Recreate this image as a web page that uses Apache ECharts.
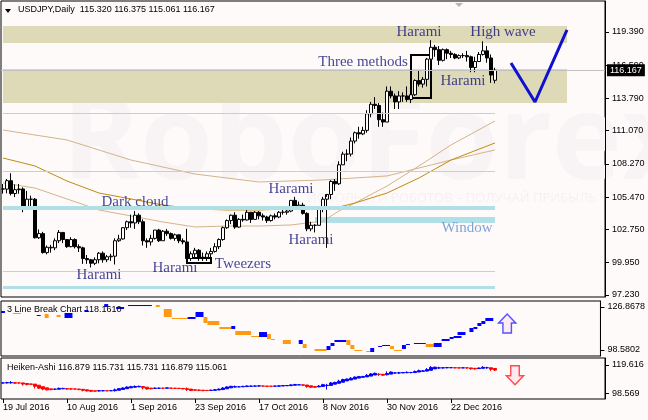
<!DOCTYPE html>
<html><head><meta charset="utf-8">
<script src="https://cdn.jsdelivr.net/npm/echarts@6/dist/echarts.min.js"></script>
<style>html,body{margin:0;padding:0;background:#fffafa}#c{width:648px;height:420px}</style>
</head><body><div id="c"></div>
<script>
// ---------- DATA ----------
const startDate = '2016-07-19';
const nCats = 151;
const xTickLabels = ['19 Jul 2016','10 Aug 2016','1 Sep 2016','23 Sep 2016','17 Oct 2016','8 Nov 2016','30 Nov 2016','22 Dec 2016'];
const yTicksMain = [97.23, 99.95, 102.75, 105.47, 108.27, 111.07, 113.79, 116.59, 119.39];
const yTicksLB = [98.5802, 126.8678];
const yTicksHA = [98.569, 119.616];

const opens = [
106.17,106.15,106.86,105.78,106.10,106.16,104.65,105.30,105.30,102.05,
102.40,100.80,101.25,101.20,101.80,102.50,101.90,101.30,101.90,101.30,
101.20,100.30,100.20,99.90,100.20,100.75,100.20,100.45,100.50,101.80,
101.95,102.90,103.40,103.30,103.95,103.40,101.80,101.70,102.00,102.70,
101.80,102.60,102.40,102.00,102.30,101.80,101.70,100.30,100.70,101.00,
100.40,100.40,100.70,100.90,101.30,101.90,102.90,103.50,103.95,102.95,
103.60,103.55,104.20,103.60,104.20,103.90,103.80,103.50,103.90,103.80,
104.20,104.20,104.30,105.20,104.70,104.80,104.10,102.80,103.10,103.10,
104.50,105.30,105.70,106.80,106.60,108.20,109.10,109.10,110.20,110.90,
110.80,111.10,112.50,113.30,113.20,112.00,111.80,114.40,114.00,113.50,
114.00,114.00,113.70,114.10,115.30,115.00,115.40,117.10,118.10,117.90,
117.00,117.90,117.60,117.50,117.20,117.40,117.40,117.30,116.40,116.90,
117.50,117.80,117.20,115.32];
const highs = [
106.58,107.00,107.49,106.55,106.58,106.30,106.00,105.60,105.40,102.75,
102.55,101.40,101.45,102.00,102.70,102.50,101.95,102.10,102.00,101.50,
101.30,100.60,100.25,100.40,100.85,100.90,100.60,100.70,102.00,102.30,
102.95,103.50,104.00,104.30,104.10,103.60,102.00,102.30,102.70,102.80,
102.70,102.80,102.50,102.40,102.30,102.00,102.80,100.90,101.20,101.10,
100.80,100.90,101.20,101.60,102.00,103.00,103.60,104.00,104.20,103.70,
104.00,104.40,104.20,104.30,104.30,104.10,103.90,104.00,104.10,104.30,
104.50,104.60,105.20,105.50,105.10,105.00,104.20,103.40,103.20,104.60,
105.50,105.50,106.90,107.00,108.50,109.30,109.50,110.50,111.00,111.40,
111.40,112.80,113.50,113.90,113.40,112.60,114.80,114.80,114.20,114.40,
114.30,114.80,114.40,115.40,116.10,115.60,117.20,118.70,118.30,118.20,
118.00,118.00,117.80,117.60,117.50,117.60,117.80,117.40,117.30,117.70,
118.60,118.20,117.50,116.375];
const lows = [
105.77,105.80,105.62,105.48,105.76,104.20,104.40,104.60,101.99,101.95,
100.72,100.65,100.80,101.00,101.60,101.60,101.20,101.25,101.15,100.85,
99.85,99.85,99.55,99.75,99.90,99.95,100.00,100.10,99.80,101.70,
101.90,102.70,102.90,102.80,103.20,101.40,101.20,101.40,101.90,101.70,
101.80,102.20,101.90,101.80,101.60,101.50,100.20,100.10,100.30,100.10,
100.10,100.10,100.30,100.80,101.10,101.80,102.80,103.20,102.80,102.90,
103.40,103.50,103.30,103.60,103.60,103.50,103.30,103.40,103.60,103.70,
104.00,104.00,104.20,104.60,104.60,104.00,102.60,102.60,102.50,103.10,
104.20,101.20,105.30,106.00,106.50,108.20,108.50,108.90,110.00,110.40,
110.70,110.90,112.20,112.90,111.40,111.40,111.80,113.80,112.90,112.90,
113.50,113.50,113.40,114.00,114.80,114.70,114.80,116.90,117.30,116.60,
116.90,117.10,117.20,117.10,117.10,117.20,116.90,116.00,116.00,116.90,
117.40,116.80,115.10,115.061];
const closes = [
106.15,106.86,105.78,106.10,106.16,104.65,105.30,105.30,102.05,102.40,
100.80,101.25,101.20,101.80,102.50,101.90,101.30,101.90,101.30,101.20,
100.30,100.20,99.90,100.20,100.75,100.20,100.45,100.50,101.80,101.95,
102.90,103.40,103.30,103.95,103.40,101.80,101.70,102.00,102.70,101.80,
102.60,102.40,102.00,102.30,101.80,101.70,100.30,100.70,101.00,100.40,
100.40,100.70,100.90,101.30,101.90,102.90,103.50,103.95,102.95,103.60,
103.55,104.20,103.60,104.20,103.90,103.80,103.50,103.90,103.80,104.20,
104.20,104.30,105.20,104.70,104.80,104.10,102.80,103.10,103.10,104.50,
105.30,105.70,106.80,106.60,108.20,109.10,109.10,110.20,110.90,110.80,
111.10,112.50,113.30,113.20,112.00,111.80,114.40,114.00,113.50,114.00,
114.00,113.70,114.10,115.30,115.00,115.40,117.10,118.10,117.90,117.00,
117.90,117.60,117.50,117.20,117.40,117.40,117.30,116.40,116.90,117.50,
117.80,117.20,115.76,116.167];

// moving averages: [barIndex, value]
const maSlow = [[0,111.13],[16,110.29],[32,108.60],[48,107.42],[64,106.75],[80,106.92],[96,107.26],[104,107.93],[112,108.60],[123,109.45]];
const maMid  = [[0,108.77],[8,108.10],[16,106.83],[24,105.82],[32,105.32],[40,104.81],[48,104.48],[56,104.39],[64,104.39],[72,104.48],[80,104.48],[84,104.64],[88,104.98],[96,105.82],[104,107.09],[112,108.60],[123,110.04]];
const maFast = [[0,106.67],[8,106.24],[16,105.32],[24,104.39],[32,103.89],[40,103.38],[48,102.96],[56,103.04],[64,103.04],[72,103.13],[80,103.46],[84,104.31],[88,104.98],[96,106.41],[104,108.10],[112,109.87],[123,111.89]];

// 3 line break bricks: [fromBar, toBar, top, bottom, up(1)/down(0)]
const lineBreak = [
[0,0,124.24,122.92,1],[3,4,122.92,122.26,0],[9,9,121.60,120.95,1],[11,11,122.26,119.63,0],
[14,14,121.60,120.29,0],[16,17,122.92,119.63,1],[21,21,124.90,123.58,1],[26,26,128.80,126.87,1],
[29,30,126.87,125.55,1],[32,37,128.20,127.50,1],[39,39,128.20,126.87,0],[41,42,125.55,120.29,0],
[43,46,119.63,118.97,0],[47,48,120.29,118.97,1],[49,50,123.58,120.29,1],[51,51,120.29,116.34,0],
[52,54,117.66,115.03,0],[55,57,113.71,112.40,0],[58,58,114.37,112.40,1],[59,62,111.08,108.45,0],
[63,64,107.80,107.13,0],[65,66,110.40,107.13,1],[67,67,109.10,105.80,0],[68,68,105.80,105.16,0],
[71,72,105.16,102.53,0],[75,75,105.16,102.53,1],[76,76,102.53,99.90,0],[79,81,99.24,97.92,0],
[82,82,101.20,98.58,1],[83,83,103.19,101.20,1],[84,86,105.16,103.84,1],[87,87,105.16,101.87,0],
[88,88,101.87,99.24,0],[89,90,98.58,97.92,0],[92,92,97.92,97.26,0],[93,93,99.90,97.26,1],
[95,95,101.20,100.55,1],[96,97,101.87,101.20,1],[98,98,101.20,99.24,0],[99,100,98.58,97.92,0],
[101,101,101.87,99.24,1],[102,102,102.53,101.87,1],[104,106,103.19,102.53,1],[107,108,102.53,100.55,0],
[109,110,103.19,100.55,1],[111,112,105.80,104.50,1],[113,113,107.13,105.80,1],[114,115,107.80,106.47,1],
[115,116,110.40,108.45,1],[118,118,113.05,110.40,1],[119,119,113.71,112.40,1],[120,120,116.34,114.37,1],
[121,121,117.66,115.70,1],[122,123,119.63,117.66,1]];

// analyst drawings (price levels)
const tanBands = [[118.46,119.89],[113.41,116.27]];
const thinLevels = [112.54, 107.62, 99.25];
const thickLevels = [[104.56,4],[97.90,3]];
const windowZone = [103.30, 103.80];
const vArrow = [[127,116.78],[133,113.49],[141,119.56]];
const notes = [[104,119.39,'Harami'],[125,119.39,'High wave'],[90,116.86,'Three methods'],[115,115.26,'Harami'],
[33,105.07,'Dark cloud'],[24,98.91,'Harami'],[43,99.50,'Harami'],[60,99.84,'Tweezers'],[72,106.16,'Harami'],[77,101.86,'Harami']];
const windowNote = [116,102.88,'Window'];
const lastPrice = 116.167;

// ---------- BUILD ----------
function weekdays(start, n){
  const M=['Jan','Feb','Mar','Apr','May','Jun','Jul','Aug','Sep','Oct','Nov','Dec'];
  const out=[]; const d=new Date(start+'T00:00:00Z');
  while(out.length<n){const w=d.getUTCDay(); if(w!==0&&w!==6) out.push(d.getUTCDate()+' '+M[d.getUTCMonth()]+' '+d.getUTCFullYear()); d.setUTCDate(d.getUTCDate()+1);}
  return out;
}
const cats = weekdays(startDate, nCats);
const candles = opens.map((o,i)=>[o, closes[i], lows[i], highs[i]]);
// Heiken-Ashi from the candles
const ha=[]; let pO=null,pC=null;
for(let i=0;i<opens.length;i++){
  const c=(opens[i]+highs[i]+lows[i]+closes[i])/4;
  const o= pO===null ? (opens[i]+closes[i])/2 : (pO+pC)/2;
  ha.push([o,c,Math.min(lows[i],o,c),Math.max(highs[i],o,c)]); pO=o; pC=c;
}
const lastIdx = opens.length-1;
const FS='"Liberation Sans", Arial, sans-serif';
const SERIF='"Liberation Serif", "Times New Roman", serif';

function xAx(g, bottom){
  return {type:'category', gridIndex:g, data:cats, boundaryGap:true,
    axisLine:{show:false}, splitLine:{show:false},
    axisTick:{show:bottom, interval:(i)=>xTickLabels.indexOf(cats[i])>=0, alignWithLabel:true, length:4, inside:false, lineStyle:{color:'#000'}},
    axisLabel:{show:bottom, interval:(i)=>xTickLabels.indexOf(cats[i])>=0, align:'left', fontSize:9, fontFamily:FS, color:'#000', margin:4}};
}
function yAx(g, min, max, ticks, dec){
  return {type:'value', gridIndex:g, position:'right', min:min, max:max, scale:true,
    splitLine:{show:false}, axisLine:{show:true, lineStyle:{color:'#000'}},
    axisTick:{show:true, length:4, customValues:ticks, lineStyle:{color:'#000'}},
    axisLabel:{show:true, customValues:ticks, margin:7, fontSize:9, fontFamily:FS, color:'#000', formatter:(v)=>Number(v).toFixed(dec)}};
}

const chart = echarts.init(document.getElementById('c'), null, {renderer:'canvas'});
const gridBase = {left:1, width:604, show:true, borderColor:'#000', borderWidth:1, backgroundColor:'#fffafa'};

const markAreas = tanBands.map(b=>[{xAxis:0, yAxis:b[0], itemStyle:{color:'#dedab8'}},{xAxis:141, yAxis:b[1]}]);
markAreas.push([{xAxis:78, yAxis:windowZone[0], itemStyle:{color:'#b0e0e6'}},{xAxis:lastIdx, yAxis:windowZone[1]}]);
const markLines = thinLevels.map(v=>[{xAxis:0, yAxis:v, lineStyle:{color:'#add8e6', width:1, type:'solid'}},{xAxis:lastIdx, yAxis:v}]);
thickLevels.forEach(t=>markLines.push([{xAxis:0, yAxis:t[0], lineStyle:{color:'#b0e0e6', width:t[1], type:'solid'}},{xAxis:lastIdx, yAxis:t[0]}]));

const option = {
  animation:false,
  backgroundColor:'#fffafa',
  grid:[
    Object.assign({top:1, height:296}, gridBase),
    Object.assign({top:301, height:55}, gridBase),
    Object.assign({top:358, height:41}, gridBase)
  ],
  xAxis:[xAx(0,false), xAx(1,false), xAx(2,true)],
  yAxis:[yAx(0, 97.06, 122.0, yTicksMain, 3), yAx(1, 94.633, 130.815, yTicksLB, 4), yAx(2, 94.22, 124.73, yTicksHA, 3)],
  graphic:[
    {type:'text', left:62, top:86, z:0, silent:true, style:{text:'RoboForex', font:'bold 118px "Open Sans", sans-serif', fill:'#f8f3f5'}},
    {type:'text', left:307, top:192, z:0, silent:true, style:{text:'ИСПОЛЬЗУЙ РОБОТОВ – ПОЛУЧАЙ ПРИБЫЛЬ', font:'13px "Open Sans", sans-serif', fill:'#f5f0f2'}},
    {type:'polygon', z:50, shape:{points:[[5,9],[11,9],[8,13]]}, style:{fill:'#000'}},
    {type:'text', left:18, top:5, z:50, style:{text:'USDJPY,Daily  115.320 116.375 115.061 116.167', font:'9px '+FS, fill:'#000'}},
    {type:'polygon', z:50, shape:{points:[[455,3],[463,3],[459,7]]}, style:{fill:'#b4b4b4'}},
    {type:'text', left:7, top:305, z:50, style:{text:'3 Line Break Chart 118.1610', font:'9px '+FS, fill:'#000'}},
    {type:'text', left:7, top:363, z:50, style:{text:'Heiken-Ashi 116.879 115.731 115.731 116.879 115.061', font:'9px '+FS, fill:'#000'}}
  ],
  series:[
    {type:'line', name:'drawings', xAxisIndex:0, yAxisIndex:0, data:[], z:1, silent:true,
      markArea:{silent:true, data:markAreas},
      markLine:{silent:true, symbol:'none', label:{show:false}, data:markLines}},
    {type:'line', xAxisIndex:0, yAxisIndex:0, data:maSlow, showSymbol:false, symbol:'none', z:2, lineStyle:{color:'#d2b48c', width:1}},
    {type:'line', xAxisIndex:0, yAxisIndex:0, data:maFast, showSymbol:false, symbol:'none', z:2, lineStyle:{color:'#d2b48c', width:1}},
    {type:'line', xAxisIndex:0, yAxisIndex:0, data:maMid, showSymbol:false, symbol:'none', z:2, lineStyle:{color:'#c08c10', width:1}},
    {type:'candlestick', xAxisIndex:0, yAxisIndex:0, data:candles, barWidth:3, z:3,
      itemStyle:{color:'#ffffff', color0:'#000000', borderColor:'#000000', borderColor0:'#000000', borderWidth:1},
      markLine:{silent:true, symbol:'none', data:[{yAxis:lastPrice}], lineStyle:{color:'#c0c0c0', width:1, type:'solid'},
        label:{show:true, position:'end', distance:2, formatter:lastPrice.toFixed(3), backgroundColor:'#000', color:'#fff', fontSize:9, fontFamily:FS, padding:[2,3,1,3]}}},
    {type:'line', xAxisIndex:0, yAxisIndex:0, data:[], z:4, silent:true,
      markArea:{silent:true, itemStyle:{color:'rgba(0,0,0,0)', borderColor:'#000', borderWidth:2}, data:[
        [{xAxis:102, yAxis:113.83},{xAxis:107, yAxis:117.45}],
        [{xAxis:46, yAxis:99.93},{xAxis:52, yAxis:100.35}]]}},
    {type:'line', xAxisIndex:0, yAxisIndex:0, data:vArrow, showSymbol:false, symbol:'none', z:5, lineStyle:{color:'#1010d0', width:3}},
    {type:'scatter', xAxisIndex:0, yAxisIndex:0, z:6, symbolSize:0,
      data:notes.map(n=>({value:n})).concat([{value:windowNote, label:{color:'#5a8fd0'}}]),
      label:{show:true, position:'inside', formatter:(p)=>p.value[2], fontFamily:SERIF, fontSize:15, color:'#14147a'}},
    {type:'custom', xAxisIndex:1, yAxisIndex:1, data:lineBreak, encode:{x:[0,1], y:[2,3]}, z:3,
      renderItem:function(params, api){
        const p0=api.coord([api.value(0), api.value(2)]); const p1=api.coord([api.value(1), api.value(3)]);
        const w=api.size([1,0])[0];
        const x=p0[0]-w/2, x2=p1[0]+w/2;
        return {type:'rect', shape:{x:x, y:p0[1], width:x2-x, height:Math.max(1,p1[1]-p0[1])}, style:{fill: api.value(4)? '#0000ff':'#ff9a10'}};
      }},
    {type:'scatter', xAxisIndex:1, yAxisIndex:1, z:6, data:[[127,116.0]], symbol:'path://M8,0L16,9L12,9L12,19L4,19L4,9L0,9Z', symbolSize:[17,19],
      itemStyle:{color:'#fbe6f2', borderColor:'#2a2aff', borderWidth:1.5}},
    {type:'candlestick', xAxisIndex:2, yAxisIndex:2, data:ha, barWidth:3, z:3,
      itemStyle:{color:'#0000ff', color0:'#ff0000', borderColor:'#0000ff', borderColor0:'#ff0000', borderWidth:1}},
    {type:'scatter', xAxisIndex:2, yAxisIndex:2, z:6, data:[[128,111.9]], symbol:'path://M4,0L12,0L12,10L16,10L8,19L0,10L4,10Z', symbolSize:[17,19],
      itemStyle:{color:'#fde6ee', borderColor:'#ff2020', borderWidth:1.5}}
  ]
};
chart.setOption(option);
</script></body></html>
